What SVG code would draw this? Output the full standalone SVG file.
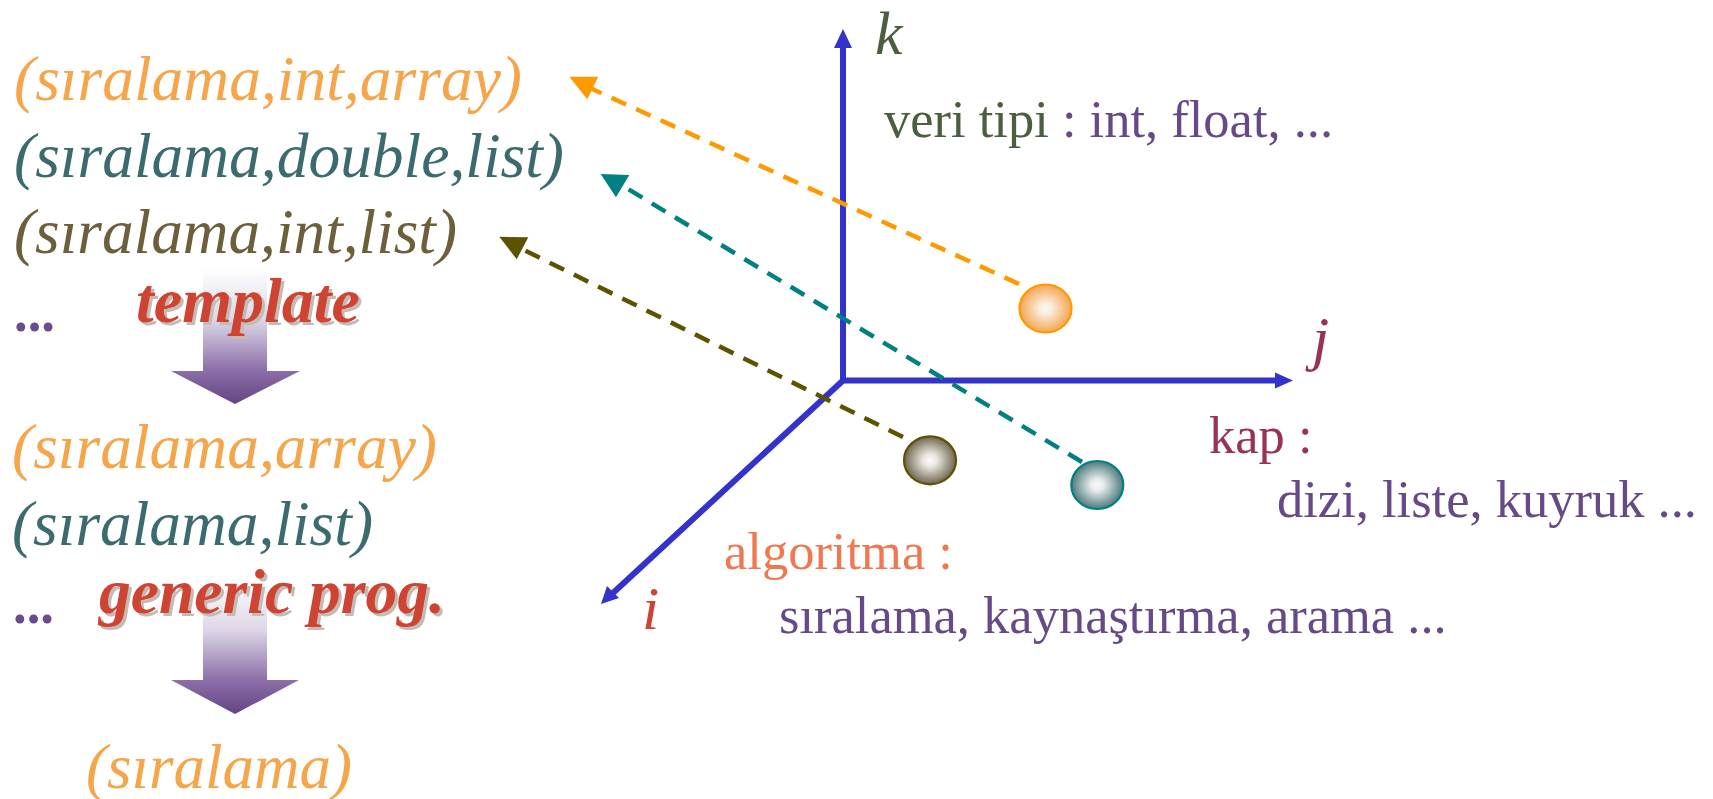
<svg xmlns="http://www.w3.org/2000/svg" width="1713" height="799" viewBox="0 0 1713 799">
<defs>
<linearGradient id="blockGrad" x1="0" y1="0" x2="0" y2="1">
<stop offset="0" stop-color="#FFFFFF"/>
<stop offset="0.38" stop-color="#DDD7E7"/>
<stop offset="0.75" stop-color="#8C6FA8"/>
<stop offset="1" stop-color="#634584"/>
</linearGradient>
<radialGradient id="gOrange" cx="0.5" cy="0.5" r="0.5">
<stop offset="0" stop-color="#FAFAF6"/>
<stop offset="0.25" stop-color="#FBEBDA"/>
<stop offset="1" stop-color="#F3A651"/>
</radialGradient>
<radialGradient id="gOlive" cx="0.5" cy="0.5" r="0.5">
<stop offset="0" stop-color="#FAFAF6"/>
<stop offset="0.25" stop-color="#ECE9E2"/>
<stop offset="1" stop-color="#6E6650"/>
</radialGradient>
<radialGradient id="gTeal" cx="0.5" cy="0.5" r="0.5">
<stop offset="0" stop-color="#FAFAF6"/>
<stop offset="0.25" stop-color="#E6ECEC"/>
<stop offset="1" stop-color="#4E7A7C"/>
</radialGradient>
</defs>
<style>
.it{font-family:"Liberation Serif","Times New Roman",serif;font-style:italic;font-size:63px}
.bi{font-family:"Liberation Serif","Times New Roman",serif;font-style:italic;font-weight:bold;font-size:63.5px;fill:#CE4332}
.sh{font-family:"Liberation Serif","Times New Roman",serif;font-style:italic;font-weight:bold;font-size:63.5px;fill:#C4BCB4}
.rm{font-family:"Liberation Serif","Times New Roman",serif;font-size:52.5px}
.ax{font-family:"Liberation Serif","Times New Roman",serif;font-style:italic;font-size:62px}
.dots{font-family:"Liberation Serif","Times New Roman",serif;font-size:54px;font-weight:bold;fill:#6A4C8C}
.orange{fill:#F5A54A}
.teal{fill:#3B6B6E}
.olive{fill:#6D5E3C}
.purple{fill:#664A88}
.green{fill:#4B5E40}
.maroon{fill:#993355}
.axis{stroke:#3333CC;stroke-width:6;fill:none}
.axhead{fill:#3333CC}
.dash{fill:none;stroke-width:4.5;stroke-dasharray:16 11}
</style>

<g id="axes">
<line class="axis" x1="843" y1="383" x2="843" y2="45"/>
<polygon class="axhead" points="843,29 852,48 834,48"/>
<line class="axis" x1="840" y1="380.5" x2="1278" y2="380.5"/>
<polygon class="axhead" points="1293,380.5 1275,372.5 1275,388.5"/>
<line class="axis" x1="843" y1="380.5" x2="613" y2="593"/>
<polygon class="axhead" points="601,604 607,586 619,598"/>
</g>

<g id="connectors">
<line class="dash" stroke="#FF9900" x1="1019" y1="284" x2="590" y2="88"/>
<polygon fill="#FF9900" points="569.3,76.7 598.3,76.7 587.3,99.3"/>
<line class="dash" stroke="#008080" x1="1082" y1="462" x2="623" y2="186"/>
<polygon fill="#008080" points="600.7,174 629.3,175 616,197.3"/>
<line class="dash" stroke="#5C5200" x1="903" y1="437" x2="522" y2="249"/>
<polygon fill="#5C5200" points="499.3,236.7 528.3,237.3 516.7,259.3"/>
</g>

<g id="ball-orange">
<ellipse cx="1045.5" cy="308.5" rx="26" ry="24" fill="url(#gOrange)" stroke="#FF9900" stroke-width="2.2"/>
</g>
<g id="ball-olive">
<ellipse cx="930" cy="460.3" rx="26" ry="24" fill="url(#gOlive)" stroke="#5C5200" stroke-width="2.2"/>
</g>
<g id="ball-teal">
<ellipse cx="1097.3" cy="485" rx="26" ry="24" fill="url(#gTeal)" stroke="#008080" stroke-width="2.2"/>
</g>

<g id="label-k"><text class="ax green" x="875" y="54">k</text></g>
<g id="label-j"><text class="ax maroon" x="1312" y="359">j</text></g>
<g id="label-i"><text class="ax" fill="#CC4433" x="642" y="629">i</text></g>

<g id="label-veri">
<text class="rm" x="884" y="137"><tspan class="green">veri tipi </tspan><tspan class="purple">: int, float, ...</tspan></text>
</g>
<g id="label-kap">
<text class="rm maroon" x="1209" y="453">kap :</text>
<text class="rm purple" x="1277" y="517">dizi, liste, kuyruk ...</text>
</g>
<g id="label-algoritma">
<text class="rm" fill="#F07850" x="724" y="569">algoritma :</text>
<text class="rm purple" x="779" y="633">sıralama, kaynaştırma, arama ...</text>
</g>

<g id="block-arrow-1">
<polygon fill="url(#blockGrad)" points="203,268 267,268 267,371 300,371 235,404 171,371 203,371"/>
</g>
<g id="block-arrow-2">
<polygon fill="url(#blockGrad)" points="203,578 267,578 267,680 299,680 235,714 171,680 203,680"/>
</g>

<g id="tuple-int-array"><text class="it orange" x="14" y="100" textLength="508" lengthAdjust="spacingAndGlyphs">(sıralama,int,array)</text></g>
<g id="tuple-double-list"><text class="it teal" x="14" y="177" textLength="550" lengthAdjust="spacingAndGlyphs">(sıralama,double,list)</text></g>
<g id="tuple-int-list"><text class="it olive" x="14" y="253" textLength="443" lengthAdjust="spacingAndGlyphs">(sıralama,int,list)</text></g>
<g id="dots-1"><text class="dots" x="14" y="331" textLength="41" lengthAdjust="spacingAndGlyphs">...</text></g>

<g id="label-template">
<text class="sh" x="139" y="325" textLength="224" lengthAdjust="spacingAndGlyphs">template</text>
<text class="bi" x="136" y="322" textLength="224" lengthAdjust="spacingAndGlyphs">template</text>
</g>

<g id="pair-array"><text class="it orange" x="12" y="468" textLength="425" lengthAdjust="spacingAndGlyphs">(sıralama,array)</text></g>
<g id="pair-list"><text class="it teal" x="12" y="545" textLength="361" lengthAdjust="spacingAndGlyphs">(sıralama,list)</text></g>
<g id="dots-2"><text class="dots" x="13" y="623" textLength="41" lengthAdjust="spacingAndGlyphs">...</text></g>

<g id="label-generic">
<text class="sh" x="102" y="616" textLength="346" lengthAdjust="spacingAndGlyphs">generic prog.</text>
<text class="bi" x="99" y="613" textLength="346" lengthAdjust="spacingAndGlyphs">generic prog.</text>
</g>

<g id="single"><text class="it orange" x="86" y="788" textLength="266" lengthAdjust="spacingAndGlyphs">(sıralama)</text></g>
</svg>
